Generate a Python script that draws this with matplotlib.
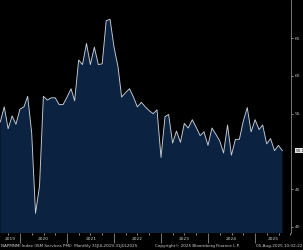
import matplotlib
matplotlib.use('Agg')
import matplotlib.pyplot as plt
import matplotlib.dates as mdates
import pandas as pd

# ISM Services PMI, monthly, Jul 2019 - Jul 2025
pmi = [53.9, 55.9, 53.0, 54.7, 53.6, 55.6,
       55.9, 57.3, 52.5, 41.8, 45.4, 57.3, 56.8, 57.1, 57.1, 56.2, 56.2, 57.2,
       58.3, 56.7, 62.1, 61.5, 64.3, 61.5, 63.8, 61.5, 61.6, 67.3, 67.5, 63.8,
       61.2, 57.2, 57.8, 58.3, 57.2, 55.9, 56.5, 55.9, 55.4, 55.0, 55.5, 49.2,
       54.6, 54.9, 51.1, 52.7, 51.2, 53.7, 53.1, 54.2, 53.2, 52.1, 52.6, 50.8,
       53.1, 52.3, 51.4, 49.8, 53.5, 49.5, 51.6, 51.6, 54.0, 55.8, 52.6, 54.2,
       52.9, 53.5, 51.0, 51.7, 50.1, 50.8, 50.1]
dates = pd.date_range('2019-07-31', periods=len(pmi), freq='ME')
years = list(range(2019, 2026))
y_ticks = [40, 45, 55, 60, 65]
last_val = pmi[-1]

bg = 'black'
fill = '#0b2240'
line = '#c9ced6'
grey = '#8a8a8a'

fig = plt.figure(figsize=(3.03, 2.5), dpi=100, facecolor=bg)
ax = fig.add_axes([0, 0.068, 291 / 303, 0.932], facecolor=bg)

ax.fill_between(dates, pmi, 30, color=fill, lw=0)
ax.plot(dates, pmi, color=line, lw=0.65)

x0, x1 = pd.Timestamp('2019-07-29'), pd.Timestamp('2025-10-06')
ax.set_xlim(x0, x1)
ax.set_ylim(39.2, 70.05)

for s in ['top', 'left', 'bottom']:
    ax.spines[s].set_visible(False)
ax.spines['right'].set_color(grey)
ax.spines['right'].set_linewidth(0.6)

ax.yaxis.tick_right()
ax.set_yticks(y_ticks)
ax.set_yticklabels([str(v) for v in y_ticks])
ax.tick_params(axis='y', colors='#bdbdbd', labelsize=3.2, length=1.5, width=0.5, pad=1)

ax.xaxis.set_major_locator(mdates.YearLocator())
ax.xaxis.set_minor_locator(mdates.MonthLocator(bymonth=[4, 7, 10]))
ax.xaxis.set_major_formatter(plt.NullFormatter())
ax.tick_params(axis='x', which='major', colors=grey, length=7, width=0.6)
ax.tick_params(axis='x', which='minor', colors='#cfcfcf', length=1.5, width=0.5)

# year labels centred on the visible part of each year
xt = ax.get_xaxis_transform()
for y in years:
    lo = max(pd.Timestamp(f'{y}-01-01'), x0)
    hi = min(pd.Timestamp(f'{y + 1}-01-01'), x1)
    ax.text(lo + (hi - lo) / 2, -0.027, str(y), transform=xt,
            ha='center', va='center', color='#d0d0d0', fontsize=3.2)

ax.annotate(f'{last_val:.1f}', xy=(1.0, last_val), xycoords=('axes fraction', 'data'),
            xytext=(3, 0), textcoords='offset points', ha='left', va='center',
            fontsize=3.0, color='#222222',
            bbox=dict(boxstyle='square,pad=0.15', fc='#e4e4e4', ec='none'))

fig.text(0.003, 0.01, 'NAPMNMI Index (ISM Services PMI)  Monthly 31JUL2019-31JUL2025',
         color='#d0d0d0', fontsize=3.0, ha='left', va='bottom')
fig.text(0.51, 0.01, 'Copyright\u00a9 2025 Bloomberg Finance L.P.',
         color='#d0d0d0', fontsize=3.0, ha='left', va='bottom')
fig.text(0.998, 0.01, '05-Aug-2025 10:02:22',
         color='#d0d0d0', fontsize=3.0, ha='right', va='bottom')

fig.savefig('out.png', dpi=100, facecolor=bg)
